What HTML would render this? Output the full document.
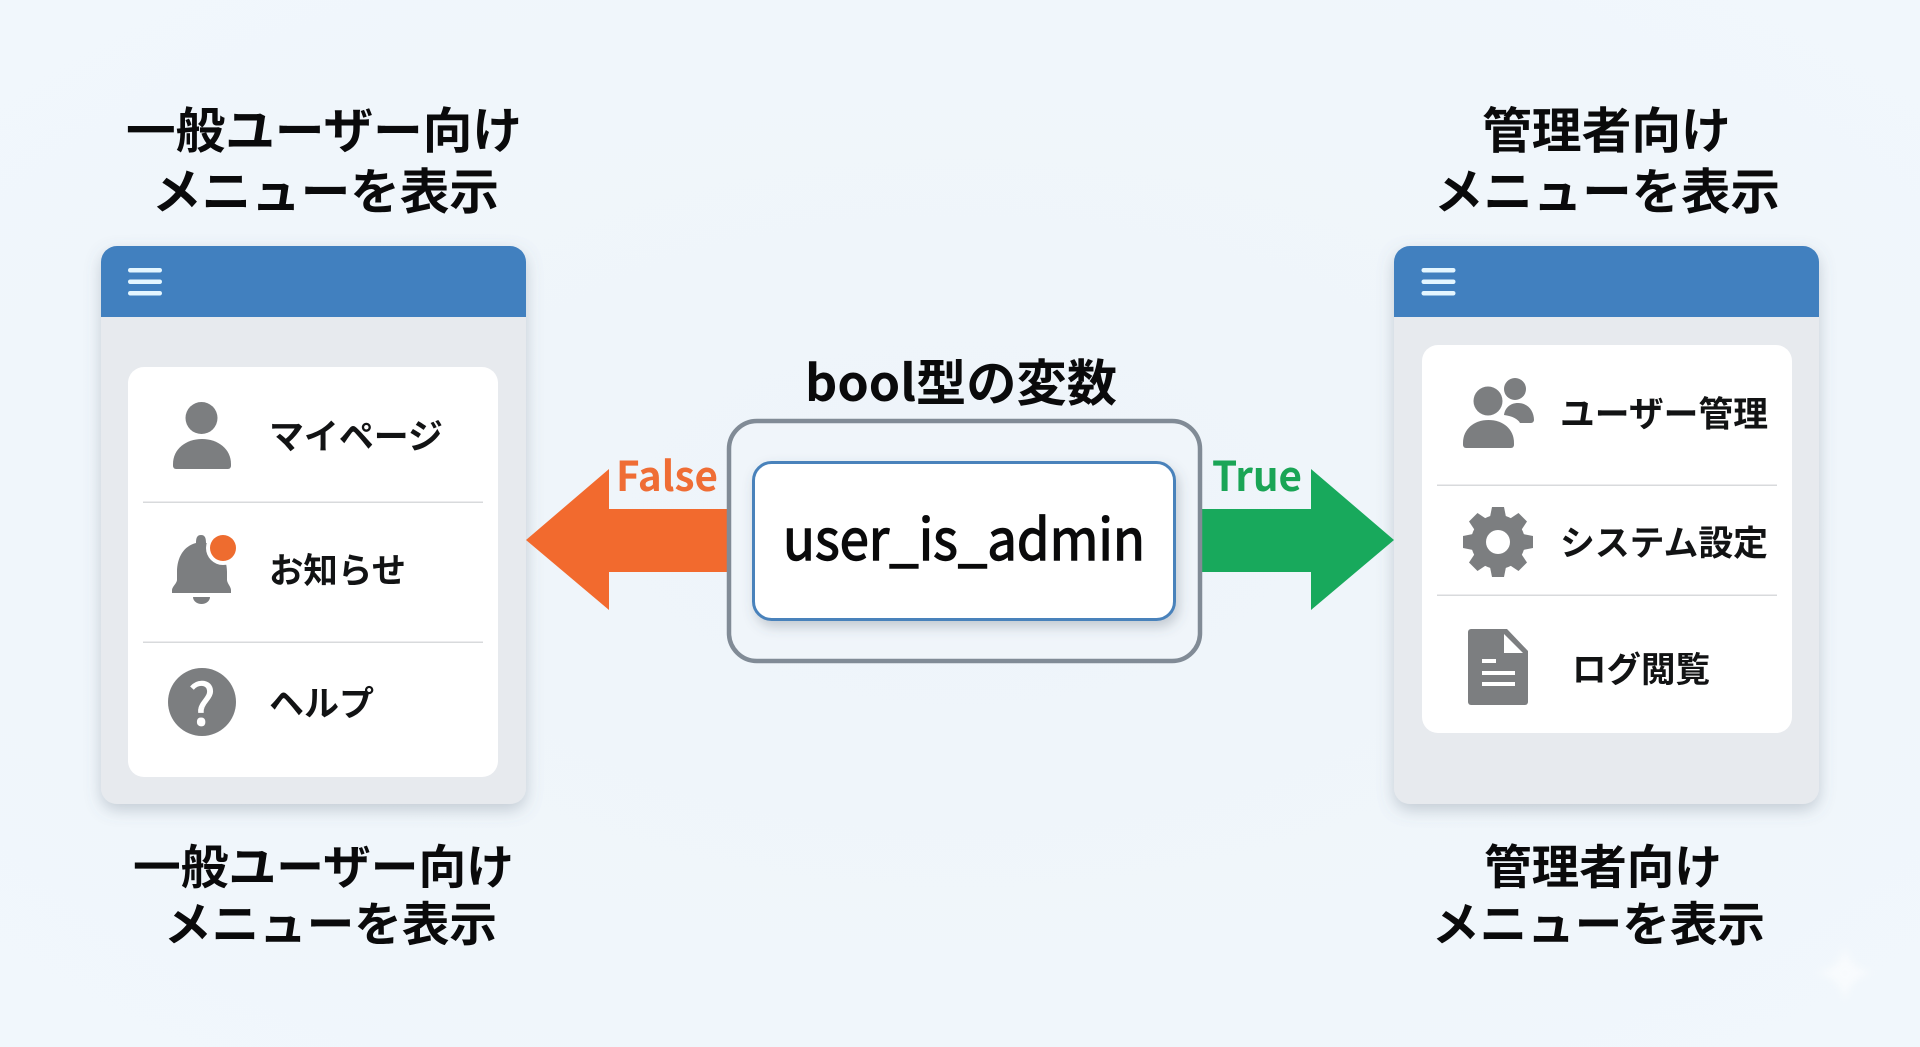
<!DOCTYPE html>
<html lang="ja">
<head>
<meta charset="utf-8">
<title>bool型の変数</title>
<style>
html,body{margin:0;padding:0;width:1920px;height:1047px;overflow:hidden;background:#f0f6fb}
svg{display:block}
text{font-family:"Liberation Sans","Noto Sans CJK JP",sans-serif}
.t{font-family:"Noto Sans CJK JP","Liberation Sans",sans-serif;font-weight:700;fill:#0a0a0b}
.m{font-family:"Noto Sans CJK JP","Liberation Sans",sans-serif;font-weight:700;fill:#121314}
.i{fill:#7c7e80}
</style>
</head>
<body>
<svg width="1920" height="1047" viewBox="0 0 1920 1047" xmlns="http://www.w3.org/2000/svg">
<defs>
<radialGradient id="bg" cx="50%" cy="50%" r="70%"><stop offset="0" stop-color="#eef4f9"/><stop offset="1" stop-color="#f1f7fc"/></radialGradient>
<filter id="ps" x="-15%" y="-15%" width="130%" height="130%"><feDropShadow dx="0" dy="6" stdDeviation="8" flood-color="#5a6a7a" flood-opacity=".3"/></filter>
<filter id="bs" x="-15%" y="-15%" width="130%" height="135%"><feDropShadow dx="3" dy="6" stdDeviation="6" flood-color="#4a5a6a" flood-opacity=".28"/></filter>
<filter id="blur" x="-50%" y="-50%" width="200%" height="200%"><feGaussianBlur stdDeviation="4"/></filter>
</defs>
<rect width="1920" height="1047" fill="url(#bg)"/>

<!-- Titles -->
<text class="t" x="126" y="148" font-size="49" textLength="396" lengthAdjust="spacingAndGlyphs">一般ユーザー向け</text>
<text class="t" x="152" y="209" font-size="49" textLength="347" lengthAdjust="spacingAndGlyphs">メニューを表示</text>
<text class="t" x="133" y="884" font-size="47" textLength="381" lengthAdjust="spacingAndGlyphs">一般ユーザー向け</text>
<text class="t" x="164" y="941" font-size="47" textLength="333" lengthAdjust="spacingAndGlyphs">メニューを表示</text>
<text class="t" x="1482" y="148" font-size="49" textLength="249" lengthAdjust="spacingAndGlyphs">管理者向け</text>
<text class="t" x="1434" y="209" font-size="49" textLength="346" lengthAdjust="spacingAndGlyphs">メニューを表示</text>
<text class="t" x="1484" y="884" font-size="47" textLength="238" lengthAdjust="spacingAndGlyphs">管理者向け</text>
<text class="t" x="1432" y="941" font-size="47" textLength="333" lengthAdjust="spacingAndGlyphs">メニューを表示</text>

<!-- Left panel -->
<g filter="url(#ps)"><rect x="101" y="246" width="425" height="558" rx="16" fill="#e7eaee"/></g>
<path d="M101 317V262a16 16 0 0 1 16-16H510a16 16 0 0 1 16 16V317Z" fill="#4180bf"/>
<g fill="#e4f6ff"><rect x="128" y="268" width="34" height="4.500" rx="2.200"/><rect x="128" y="279.500" width="34" height="4.500" rx="2.200"/><rect x="128" y="291" width="34" height="4.500" rx="2.200"/></g>
<rect x="128" y="367" width="370" height="410" rx="16" fill="#fff"/>
<rect x="143" y="501.500" width="340" height="1.500" fill="#d8dadc"/>
<rect x="143" y="641.500" width="340" height="1.500" fill="#d8dadc"/>

<!-- Person -->
<circle class="i" cx="201.500" cy="418" r="16"/>
<path class="i" d="M173 464c0-15 13-25 29-25s29 10 29 25v2a3 3 0 0 1-3 3H176a3 3 0 0 1-3-3Z"/>
<!-- Bell -->
<path class="i" d="M201 535c4 0 5 3 5 8 13 3 21 14 21 29v8c0 3 4 7 4 10v3H172v-3c0-3 5-7 5-10v-8c0-15 7-26 19-29 0-5 1-8 5-8Z"/>
<path class="i" d="M193 597h17c0 4-4 7-8.500 7s-8.500-3-8.500-7Z"/>
<circle cx="223" cy="548" r="17" fill="#fff"/>
<circle cx="223" cy="548" r="13" fill="#ee6c2f"/>
<!-- Help -->
<circle class="i" cx="202" cy="702" r="34"/>
<text x="202" y="725" font-size="58" text-anchor="middle" fill="#fff" stroke="#fff" stroke-width=".8" style="font-family:'Noto Sans CJK JP','Liberation Sans',sans-serif;font-weight:400">?</text>

<text class="m" x="269" y="449" font-size="35" textLength="174" lengthAdjust="spacingAndGlyphs">マイページ</text>
<text class="m" x="269" y="583" font-size="35" textLength="137" lengthAdjust="spacingAndGlyphs">お知らせ</text>
<text class="m" x="269" y="716" font-size="35" textLength="105" lengthAdjust="spacingAndGlyphs">ヘルプ</text>

<!-- Right panel -->
<g filter="url(#ps)"><rect x="1394" y="246" width="425" height="558" rx="16" fill="#e7eaee"/></g>
<path d="M1394 317V262a16 16 0 0 1 16-16H1803a16 16 0 0 1 16 16V317Z" fill="#4180bf"/>
<g fill="#e4f6ff"><rect x="1421.500" y="268" width="34" height="4.500" rx="2.200"/><rect x="1421.500" y="279.500" width="34" height="4.500" rx="2.200"/><rect x="1421.500" y="291" width="34" height="4.500" rx="2.200"/></g>
<rect x="1422" y="345" width="370" height="388" rx="16" fill="#fff"/>
<rect x="1437" y="484.500" width="340" height="1.500" fill="#d8dadc"/>
<rect x="1437" y="594.500" width="340" height="1.500" fill="#d8dadc"/>

<!-- Users -->
<circle class="i" cx="1488" cy="401" r="14.500"/>
<path class="i" d="M1463 443c0-14 11-23 25.500-23s25.500 9 25.500 23v2a3 3 0 0 1-3 3H1466a3 3 0 0 1-3-3Z"/>
<circle class="i" cx="1515" cy="389" r="11"/>
<path class="i" d="M1504 415c1-7 6-12 14-12 10 0 16 8 16 17a3 3 0 0 1-3 3H1520c-2-4-8-7-16-8Z"/>
<!-- Gear -->
<g class="i" transform="translate(1498 542)">
<circle r="27"/>
<path d="M-6-35H6L9-20H-9Z"/>
<path d="M-6-35H6L9-20H-9Z" transform="rotate(45)"/>
<path d="M-6-35H6L9-20H-9Z" transform="rotate(90)"/>
<path d="M-6-35H6L9-20H-9Z" transform="rotate(135)"/>
<path d="M-6-35H6L9-20H-9Z" transform="rotate(180)"/>
<path d="M-6-35H6L9-20H-9Z" transform="rotate(225)"/>
<path d="M-6-35H6L9-20H-9Z" transform="rotate(270)"/>
<path d="M-6-35H6L9-20H-9Z" transform="rotate(315)"/>
<circle r="12" fill="#fff"/>
</g>
<!-- Doc -->
<path class="i" d="M1471 629H1507L1528 651V702a3 3 0 0 1-3 3H1471a3 3 0 0 1-3-3V632a3 3 0 0 1 3-3Z"/>
<path d="M1504 634V653H1523Z" fill="#fff"/>
<g fill="#fff"><rect x="1482" y="659" width="14" height="4"/><rect x="1482" y="671" width="33" height="4"/><rect x="1482" y="682" width="33" height="4"/></g>

<text class="m" x="1560" y="426.500" font-size="35" textLength="208" lengthAdjust="spacingAndGlyphs">ユーザー管理</text>
<text class="m" x="1560" y="555.500" font-size="35" textLength="208" lengthAdjust="spacingAndGlyphs">システム設定</text>
<text class="m" x="1572" y="682" font-size="35" textLength="138" lengthAdjust="spacingAndGlyphs">ログ閲覧</text>

<!-- Arrows -->
<path d="M526 540L609 469V509H730V572H609V610Z" fill="#f26a2e"/>
<path d="M1394 540L1311 469V509H1200V572H1311V610Z" fill="#18a95c"/>
<text x="616" y="491" font-size="41" fill="#ef6d35" textLength="102" lengthAdjust="spacingAndGlyphs" style="font-family:'Noto Sans CJK JP','Liberation Sans',sans-serif;font-weight:700">False</text>
<text x="1212" y="491" font-size="41" fill="#1aa556" textLength="90" lengthAdjust="spacingAndGlyphs" style="font-family:'Noto Sans CJK JP','Liberation Sans',sans-serif;font-weight:700">True</text>

<!-- Center -->
<text class="t" x="805" y="401" font-size="50" textLength="312" lengthAdjust="spacingAndGlyphs">bool型の変数</text>
<rect x="729" y="421" width="471" height="240" rx="28" fill="#f0f5fa" stroke="#818b96" stroke-width="4.500"/>
<g filter="url(#bs)"><rect x="753.500" y="462.500" width="421" height="157" rx="18" fill="#fff" stroke="#4a82bb" stroke-width="3"/></g>
<text x="783" y="560" font-size="57" fill="#0a0a0b" stroke="#0a0a0b" stroke-width="1.400" textLength="362" lengthAdjust="spacingAndGlyphs" style="font-family:'Noto Sans CJK JP','Liberation Sans',sans-serif;font-weight:400">user_is_admin</text>

<!-- Watermark -->
<path d="M1845 945C1848 962 1856 970 1875 973C1856 976 1848 984 1845 1003C1842 984 1834 976 1815 973C1834 970 1842 962 1845 945Z" fill="#fff" opacity=".55" filter="url(#blur)"/>
</svg>
</body>
</html>
